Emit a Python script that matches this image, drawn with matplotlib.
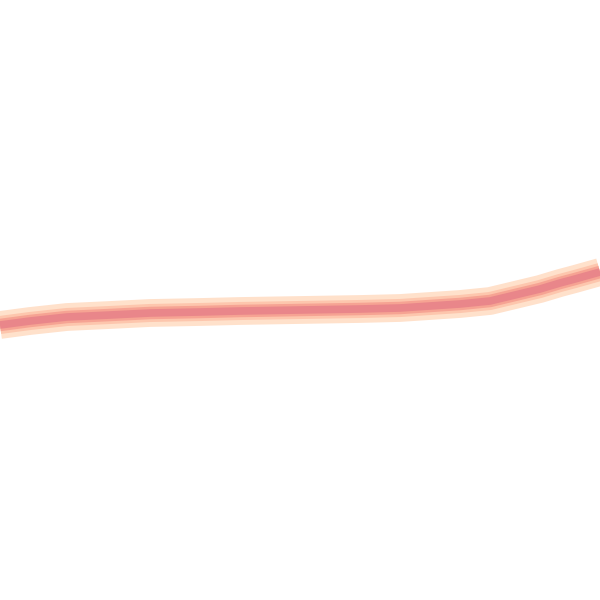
import numpy as np
from matplotlib import pyplot as plt

# centre line of the curve, in pixel-ish units (y measured up from the bottom)
xs = [0, 30, 67, 110, 150, 200, 240, 300, 360, 400, 430, 460, 490, 515, 540, 560, 575, 600]
ys = [275, 279, 283, 285, 287, 288, 289, 290, 291, 292, 294, 296, 299, 305, 311, 317, 321, 328]

fig = plt.figure(figsize=(6, 6), dpi=100)
ax = fig.add_axes([0, 0, 1, 1])
ax.set_xlim(0, 600)
ax.set_ylim(0, 600)
ax.axis('off')

# glow layers, widest first
ax.plot(xs, ys, color='#ffe1cb', lw=20, solid_capstyle='butt', solid_joinstyle='round')
ax.plot(xs, ys, color='#fdc6ad', lw=13, solid_capstyle='butt', solid_joinstyle='round')
ax.plot(xs, ys, color='#f6a393', lw=9, solid_capstyle='butt', solid_joinstyle='round')
ax.plot(xs, ys, color='#e9868a', lw=5.5, solid_capstyle='butt', solid_joinstyle='round')

fig.savefig("out.png", dpi=100, facecolor='white')
